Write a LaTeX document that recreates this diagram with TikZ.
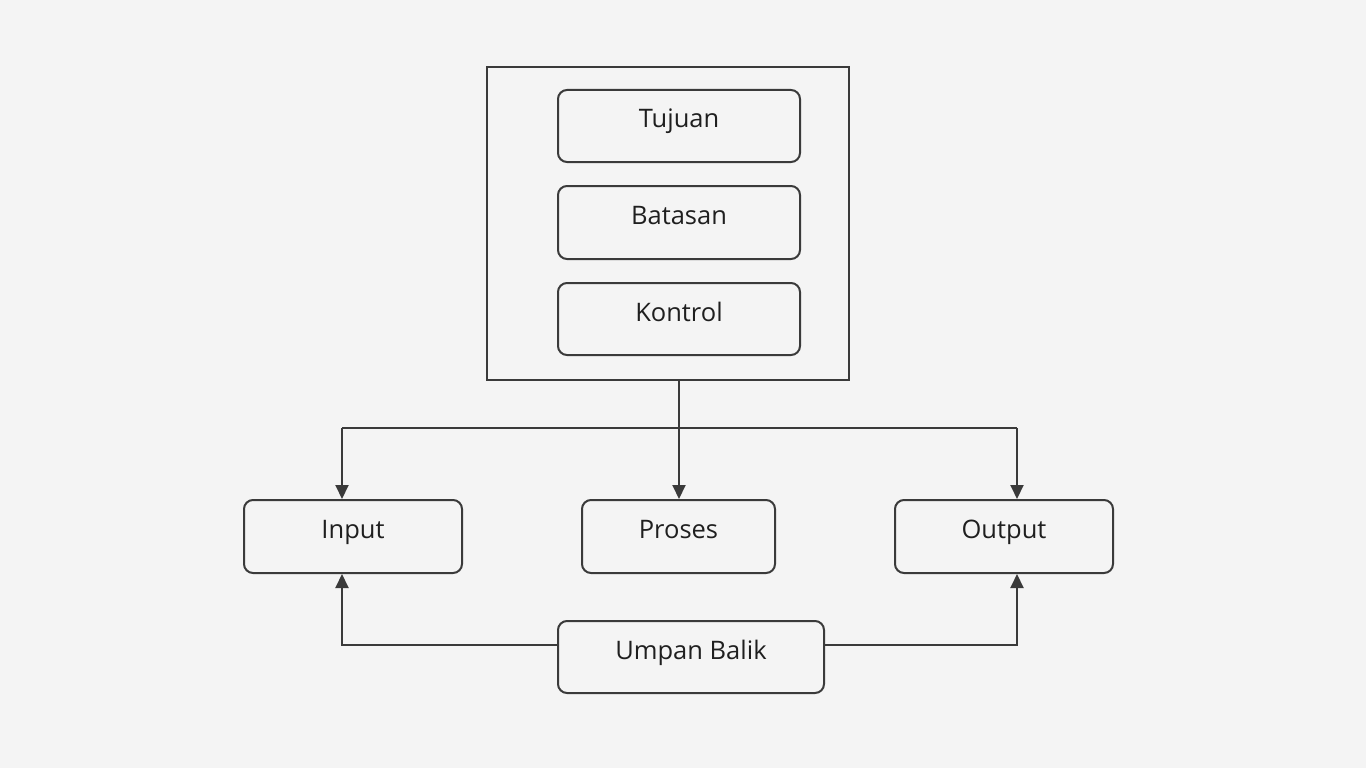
\documentclass[tikz,border=0pt]{standalone}
\usepackage{fontspec}
\setmainfont{Open Sans}
\usetikzlibrary{arrows.meta}
\definecolor{bg}{HTML}{F4F4F4}
\definecolor{ln}{HTML}{3A3A3A}
\begin{document}
\begin{tikzpicture}[x=1pt,y=-1pt,
  box/.style={draw=ln,line width=2pt,rounded corners=9pt,inner sep=0pt,text height=18pt,text depth=14pt,font=\fontsize{25.5}{30}\selectfont,text=black!88},
  conn/.style={draw=ln,line width=2pt},
  arr/.style={conn,-{Triangle[width=13pt,length=14pt]}}]
\fill[bg] (0,0) rectangle (1366,768);
\useasboundingbox (0,0) rectangle (1366,768);
\node[draw=ln,line width=2pt,minimum width=362pt,minimum height=313pt,inner sep=0pt] (outer) at (668,223.5) {};
\node[box,minimum width=242pt,minimum height=72pt] (tujuan) at (679,126) {Tujuan};
\node[box,minimum width=242pt,minimum height=73pt] (batasan) at (679,222.5) {Batasan};
\node[box,minimum width=242pt,minimum height=72pt] (kontrol) at (679,319) {Kontrol};
\node[box,minimum width=218pt,minimum height=73pt] (input) at (353,536.5) {Input};
\node[box,minimum width=193pt,minimum height=73pt] (proses) at (678.5,536.5) {Proses};
\node[box,minimum width=218pt,minimum height=73pt] (output) at (1004,536.5) {Output};
\node[box,minimum width=266pt,minimum height=72pt] (umpan) at (691,657) {Umpan Balik};
\coordinate (top) at (679,380);
\coordinate (j) at (679,428);
\coordinate (lt) at (342,428);
\coordinate (rt) at (1017,428);
\coordinate (lb) at (342,645);
\coordinate (rb) at (1017,645);
\draw[arr] (top) -- (proses.north -| top);
\draw[conn] (lt) -- (rt);
\draw[arr] (lt) -- (input.north -| lt);
\draw[arr] (rt) -- (output.north -| rt);
\draw[arr] (umpan.west |- lb) -- (lb) -- (input.south -| lb);
\draw[arr] (umpan.east |- rb) -- (rb) -- (output.south -| rb);
\end{tikzpicture}
\end{document}
